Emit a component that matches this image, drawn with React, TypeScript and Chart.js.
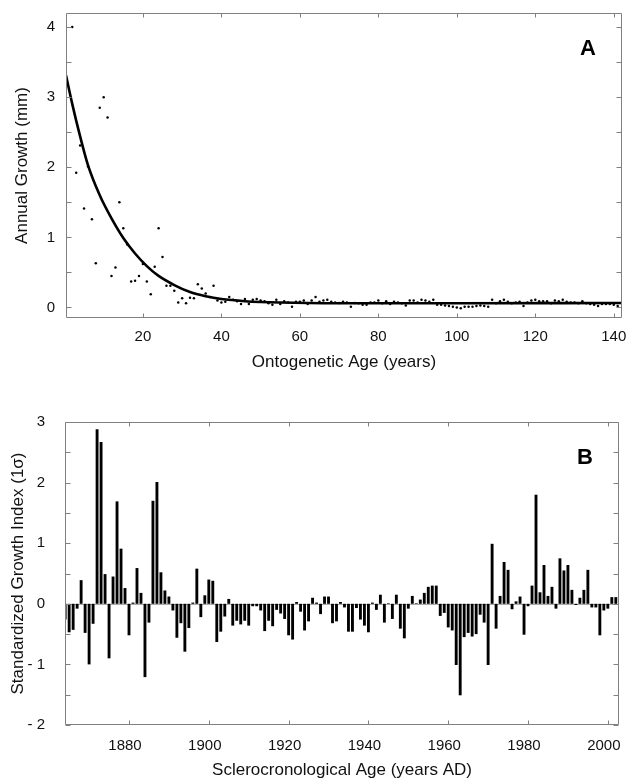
import React, { useEffect, useRef } from 'react';
import { Chart, registerables } from 'chart.js';

Chart.register(...registerables);

const FONT = '"Liberation Sans", Arial, Helvetica, sans-serif';

// ---------- Panel A: annual growth vs ontogenetic age ----------
const FIRST_AGE = 2;
const annualGrowth = [
  4.0, 1.92, 2.31, 1.41, 2.01, 1.26, 0.63, 2.85, 3.0, 2.71,
  0.45, 0.57, 1.5, 1.13, 0.9, 0.37, 0.38, 0.45, 0.62, 0.37,
  0.19, 0.58, 1.13, 0.72, 0.31, 0.31, 0.24, 0.07, 0.13, 0.06,
  0.14, 0.13, 0.33, 0.27, 0.2, 0.15, 0.31, 0.1, 0.07, 0.08,
  0.15, 0.11, 0.09, 0.05, 0.12, 0.05, 0.11, 0.12, 0.1, 0.09,
  0.06, 0.04, 0.11, 0.05, 0.09, 0.07, 0.01, 0.08, 0.08, 0.1,
  0.05, 0.1, 0.15, 0.08, 0.1, 0.11, 0.08, 0.07, 0.065, 0.08,
  0.07, 0.01, 0.065, 0.06, 0.04, 0.04, 0.07, 0.07, 0.1, 0.06,
  0.09, 0.05, 0.08, 0.07, 0.06, 0.03, 0.1, 0.1, 0.07, 0.11,
  0.1, 0.08, 0.11, 0.04, 0.04, 0.03, 0.02, 0.01, 0.0, -0.01,
  0.01, 0.01, 0.01, 0.02, 0.03, 0.02, 0.01, 0.11, 0.06, 0.09,
  0.11, 0.08, 0.06, 0.07, 0.08, 0.02, 0.07, 0.1, 0.11, 0.09,
  0.09, 0.09, 0.06, 0.1, 0.09, 0.11, 0.08, 0.07, 0.07, 0.06,
  0.09, 0.06, 0.05, 0.04, 0.02, 0.05, 0.05, 0.05, 0.04, 0.02,
];
const fitAges = [0.4, 2, 4, 6, 9, 12, 15, 18, 21, 24, 28, 32, 36, 40, 46, 55, 70, 100, 142.1];
const fitGrowth = [3.31, 2.9, 2.44, 2.03, 1.6, 1.27, 0.99, 0.77, 0.59, 0.45, 0.32, 0.22, 0.16, 0.12, 0.09, 0.07, 0.06, 0.06, 0.065];
const ageTicks = [20, 40, 60, 80, 100, 120, 140];
const growthTicks = [0, 0.5, 1, 1.5, 2, 2.5, 3, 3.5, 4];

// ---------- Panel B: standardized growth index by year ----------
const FIRST_YEAR = 1864;
const growthIndex = [
  -0.26, -0.47, -0.43, -0.08, 0.39, -0.48, -1.0, -0.33, 2.88, 2.67,
  0.49, -0.9, 0.45, 1.69, 0.91, 0.26, -0.52, 0.02, 0.59, 0.18,
  -1.21, -0.31, 1.7, 2.01, 0.52, 0.22, 0.12, -0.11, -0.56, -0.32,
  -0.79, -0.4, 0.02, 0.58, -0.22, 0.14, 0.4, 0.38, -0.63, -0.46,
  -0.21, 0.08, -0.36, -0.28, -0.34, -0.28, -0.36, -0.04, -0.04, -0.11,
  -0.45, -0.28, -0.37, -0.1, -0.16, -0.25, -0.52, -0.59, 0.03, -0.13,
  -0.44, -0.29, 0.1, 0.02, -0.17, 0.12, 0.12, -0.32, -0.29, 0.03,
  -0.06, -0.46, -0.46, -0.07, -0.26, -0.36, -0.47, 0.02, -0.1, 0.15,
  -0.31, 0.01, -0.25, 0.15, -0.41, -0.57, -0.08, 0.13, 0.01, 0.07,
  0.18, 0.28, 0.3, 0.3, -0.2, -0.15, -0.39, -0.44, -1.01, -1.51,
  -0.55, -0.48, -0.54, -0.5, -0.18, -0.31, -1.01, 0.99, -0.41, 0.13,
  0.69, 0.56, -0.09, 0.04, 0.12, -0.51, -0.04, 0.3, 1.8, 0.19,
  0.64, 0.13, 0.28, -0.08, 0.75, 0.55, 0.64, 0.23, -0.02, 0.1,
  0.23, 0.56, -0.06, -0.06, -0.52, -0.11, -0.08, 0.11, 0.11,
];
const yearTicks = [1880, 1900, 1920, 1940, 1960, 1980, 2000];
const indexTicks = [-2, -1.5, -1, -0.5, 0, 0.5, 1, 1.5, 2, 2.5, 3];

// ---------- frame / inward ticks / panel letter plugin ----------
const framePlugin = {
  id: 'frameTicks',
  beforeDatasetsDraw(chart: any, _args: any, opts: any) {
    if (!opts.zeroLine) return;
    const { ctx, chartArea: ca, scales } = chart;
    const y = Math.round(scales.y.getPixelForValue(0)) + 0.5;
    ctx.save();
    ctx.strokeStyle = '#aaaaaa';
    ctx.lineWidth = 1;
    ctx.beginPath();
    ctx.moveTo(ca.left, y);
    ctx.lineTo(ca.right, y);
    ctx.stroke();
    ctx.restore();
  },
  afterDraw(chart: any, _args: any, opts: any) {
    const { ctx, chartArea: ca, scales } = chart;
    ctx.save();
    ctx.strokeStyle = '#808080';
    ctx.lineWidth = 1;
    const l = Math.round(ca.left) + 0.5;
    const r = Math.round(ca.right) - 0.5;
    const t = Math.round(ca.top) + 0.5;
    const b = Math.round(ca.bottom) - 0.5;
    ctx.beginPath();
    ctx.rect(l, t, r - l, b - t);
    for (const v of opts.xTicks) {
      const px = Math.round(scales.x.getPixelForValue(v)) + 0.5;
      ctx.moveTo(px, b);
      ctx.lineTo(px, b - 4);
      ctx.moveTo(px, t);
      ctx.lineTo(px, t + 4);
    }
    for (const v of opts.yTicks) {
      const py = Math.round(scales.y.getPixelForValue(v)) + 0.5;
      ctx.moveTo(l, py);
      ctx.lineTo(l + 5, py);
      ctx.moveTo(r, py);
      ctx.lineTo(r - 5, py);
    }
    ctx.stroke();
    ctx.fillStyle = '#000';
    ctx.font = 'bold 22px ' + FONT;
    ctx.textAlign = 'center';
    ctx.textBaseline = 'middle';
    ctx.fillText(opts.letter, ca.right - 34, ca.top + 36);
    ctx.restore();
  },
};

function setTicks(values: number[]) {
  return (scale: any) => {
    scale.ticks = values.map((v) => ({ value: v }));
  };
}

function fixHeight(h: number) {
  return (s: any) => {
    s.height = h;
    s.paddingLeft = 0;
    s.paddingRight = 0;
  };
}

function fixWidth(w: number) {
  return (s: any) => {
    s.width = w;
    s.paddingTop = 0;
    s.paddingBottom = 0;
  };
}

const tickFont = { family: FONT, size: 15 };
const titleFont = { family: FONT, size: 17 };

function makeGrowthChart(canvas: HTMLCanvasElement) {
  const points = annualGrowth.map((g, i) => ({ x: FIRST_AGE + i, y: g }));
  const fit = fitAges.map((a, i) => ({ x: a, y: fitGrowth[i] }));
  return new Chart(canvas, {
    type: 'scatter',
    data: {
      datasets: [
        {
          data: fit,
          showLine: true,
          borderColor: '#000',
          borderWidth: 2.6,
          pointRadius: 0,
          cubicInterpolationMode: 'monotone',
        } as any,
        {
          data: points,
          pointRadius: 1.25,
          pointBackgroundColor: '#000',
          pointBorderWidth: 0,
          showLine: false,
        } as any,
      ],
    },
    plugins: [framePlugin as any],
    options: {
      animation: false,
      responsive: false,
      layout: { padding: { top: 13, right: 10, left: 0, bottom: 0 } },
      plugins: {
        legend: { display: false },
        tooltip: { enabled: false },
        frameTicks: { xTicks: ageTicks, yTicks: growthTicks, letter: 'A', zeroLine: false },
      } as any,
      scales: {
        x: {
          type: 'linear',
          min: 0.4,
          max: 142.1,
          afterBuildTicks: setTicks(ageTicks),
          afterFit: fixHeight(377 - 318),
          grid: { display: false, drawTicks: false },
          border: { display: false },
          ticks: { font: tickFont, color: '#111', padding: 10, autoSkip: false, maxRotation: 0 },
          title: { display: true, text: 'Ontogenetic Age (years)', font: titleFont, color: '#111', padding: { top: 0, bottom: 4 } },
        },
        y: {
          type: 'linear',
          min: -0.15,
          max: 4.2,
          afterBuildTicks: setTicks(growthTicks),
          afterFit: fixWidth(66),
          grid: { display: false, drawTicks: false },
          border: { display: false },
          ticks: {
            font: tickFont,
            color: '#111',
            padding: 11,
            autoSkip: false,
            callback: (v: any) => (Number.isInteger(v) ? String(v) : ''),
          },
          title: { display: true, text: 'Annual Growth (mm)', font: titleFont, color: '#111', padding: { top: 12, bottom: 0 } },
        },
      },
    } as any,
  });
}

function makeIndexChart(canvas: HTMLCanvasElement) {
  const bars = growthIndex.map((v, i) => ({ x: FIRST_YEAR + i, y: v }));
  return new Chart(canvas, {
    type: 'bar',
    data: {
      datasets: [
        {
          data: bars,
          backgroundColor: '#000',
          borderWidth: 0,
          barPercentage: 0.9,
          categoryPercentage: 0.8,
        } as any,
      ],
    },
    plugins: [framePlugin as any],
    options: {
      animation: false,
      responsive: false,
      layout: { padding: { top: 32, right: 13, left: 0, bottom: 0 } },
      plugins: {
        legend: { display: false },
        tooltip: { enabled: false },
        frameTicks: { xTicks: yearTicks, yTicks: indexTicks, letter: 'B', zeroLine: true },
      } as any,
      scales: {
        x: {
          type: 'linear',
          min: 1863.96,
          max: 2002.8,
          offset: false,
          afterBuildTicks: setTicks(yearTicks),
          afterFit: fixHeight(391 - 335),
          grid: { display: false, drawTicks: false, offset: false },
          border: { display: false },
          ticks: { font: tickFont, color: '#111', padding: 12, labelOffset: -4, autoSkip: false, maxRotation: 0, callback: (v: any) => String(v) },
          title: { display: true, text: 'Sclerocronological Age (years AD)', font: titleFont, color: '#111', padding: { top: 0, bottom: 0 } },
        },
        y: {
          type: 'linear',
          min: -2,
          max: 3,
          afterBuildTicks: setTicks(indexTicks),
          afterFit: fixWidth(65),
          grid: { display: false, drawTicks: false },
          border: { display: false },
          ticks: {
            font: tickFont,
            color: '#111',
            padding: 20,
            autoSkip: false,
            callback: (v: any) => (Number.isInteger(v) ? (v < 0 ? '- ' + Math.abs(v) : String(v)) : ''),
          },
          title: { display: true, text: 'Standardized Growth Index (1σ)', font: titleFont, color: '#111', padding: { top: 8, bottom: 0 } },
        },
      },
    } as any,
  });
}

export default function App() {
  const refA = useRef<HTMLCanvasElement>(null);
  const refB = useRef<HTMLCanvasElement>(null);

  useEffect(() => {
    const a = makeGrowthChart(refA.current!);
    const b = makeIndexChart(refB.current!);
    return () => {
      a.destroy();
      b.destroy();
    };
  }, []);

  return (
    <div style={{ position: 'fixed', left: 0, top: 0, width: 632, height: 781, background: '#fff' }}>
      <canvas ref={refA} width={632} height={377} style={{ display: 'block', position: 'absolute', left: 0, top: 0 }} />
      <canvas ref={refB} width={632} height={391} style={{ display: 'block', position: 'absolute', left: 0, top: 390 }} />
    </div>
  );
}
